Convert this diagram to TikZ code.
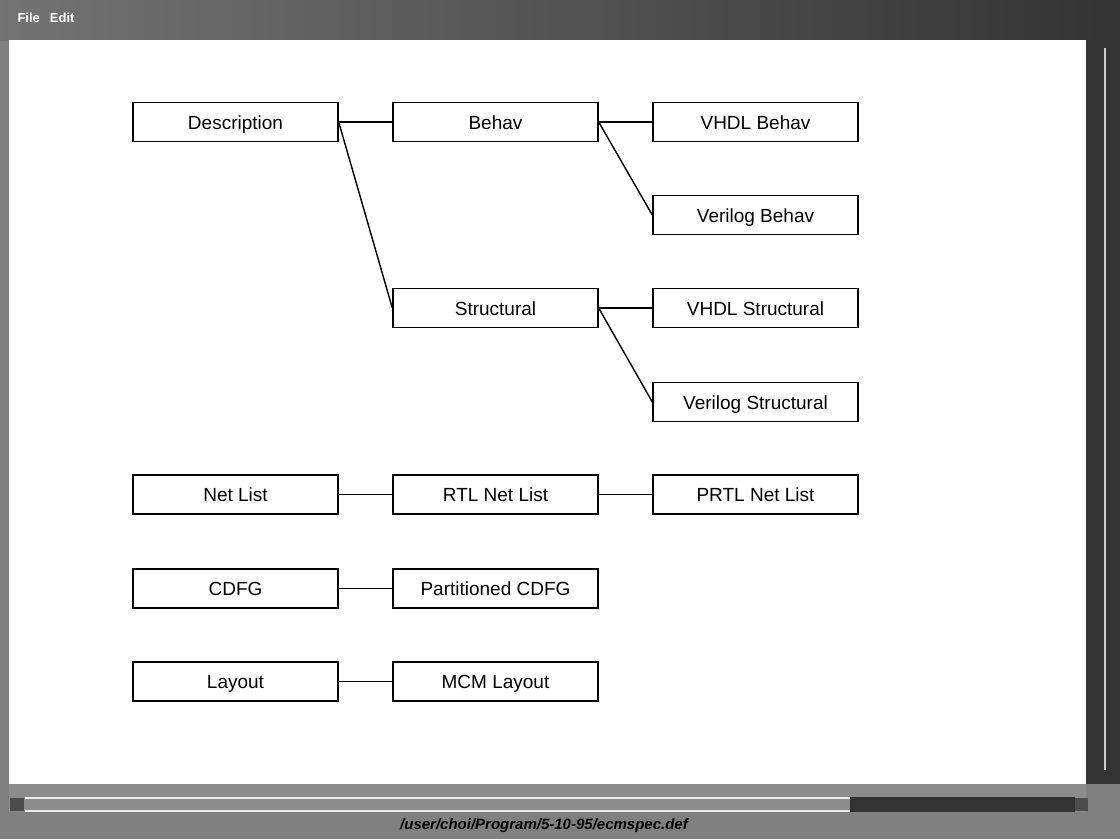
\documentclass[tikz,border=0pt]{standalone}
\usepackage{fontspec}
\setmainfont{Liberation Sans}
\begin{document}
\begin{tikzpicture}[x=1pt,y=-1pt,
  box/.style={draw=black,line width=1.4pt,fill=white,minimum width=205pt,minimum height=39pt,
    inner sep=0pt,text height=14pt,text depth=0pt,font=\fontsize{19}{22}\selectfont},
  link/.style={line width=1.4pt}]
\useasboundingbox (0,0) rectangle (1120,839);
% window frame
\fill[black!50] (0,0) rectangle (1120,839);
\shade[left color=black!55, right color=black!80] (0,0) rectangle (1120,40);
\fill[white] (9,40) rectangle (1086,784);
% vertical scrollbar
\fill[black!80] (1086,40) rectangle (1120,784);
\draw[gray!40,line width=1.5pt] (1105,48) -- (1105,770);
% horizontal scrollbar
\fill[black!45] (9,784) rectangle (1086,812);
\draw[white!85!gray,line width=1.2pt] (25,798) -- (850,798);
\draw[white!85!gray,line width=1.2pt] (25,811) -- (850,811);
\fill[black!80] (850,797) rectangle (1075,812);
\fill[black!70] (10,798) -- (24,798) -- (24,811) -- (10,811) -- cycle;
\fill[black!70] (1075,798) -- (1088,798) -- (1088,811) -- (1075,811) -- cycle;
% menu and status texts
\node[anchor=west,text=white,font=\fontsize{13}{15}\selectfont\bfseries] (menu) at (14,18) {File\hspace{10pt}Edit};
\node[text=black,font=\fontsize{15}{17}\selectfont\bfseries\itshape] (path) at (544,826) {/user/choi/Program/5-10-95/ecmspec.def};

% boxes
\node[box] (desc)  at (235.5,122)   {Description};
\node[box] (beh)   at (495.5,122)   {Behav};
\node[box] (vbeh)  at (755.5,122)   {VHDL Behav};
\node[box] (lbeh)  at (755.5,215)   {Verilog Behav};
\node[box] (str)   at (495.5,308)   {Structural};
\node[box] (vstr)  at (755.5,308)   {VHDL Structural};
\node[box] (lstr)  at (755.5,402)   {Verilog Structural};
\node[box] (net)   at (235.5,494.5) {Net List};
\node[box] (rtl)   at (495.5,494.5) {RTL Net List};
\node[box] (prtl)  at (755.5,494.5) {PRTL Net List};
\node[box] (cdfg)  at (235.5,588.5) {CDFG};
\node[box] (pcdfg) at (495.5,588.5) {Partitioned CDFG};
\node[box] (lay)   at (235.5,681.5) {Layout};
\node[box] (mcm)   at (495.5,681.5) {MCM Layout};

% connectors
\draw[link] (desc.east) -- (beh.west);
\draw[link] (desc.east) -- (str.west);
\draw[link] (beh.east) -- (vbeh.west);
\draw[link] (beh.east) -- (lbeh.west);
\draw[link] (str.east) -- (vstr.west);
\draw[link] (str.east) -- (lstr.west);
\draw[link] (net.east) -- (rtl.west);
\draw[link] (rtl.east) -- (prtl.west);
\draw[link] (cdfg.east) -- (pcdfg.west);
\draw[link] (lay.east) -- (mcm.west);
\end{tikzpicture}
\end{document}
